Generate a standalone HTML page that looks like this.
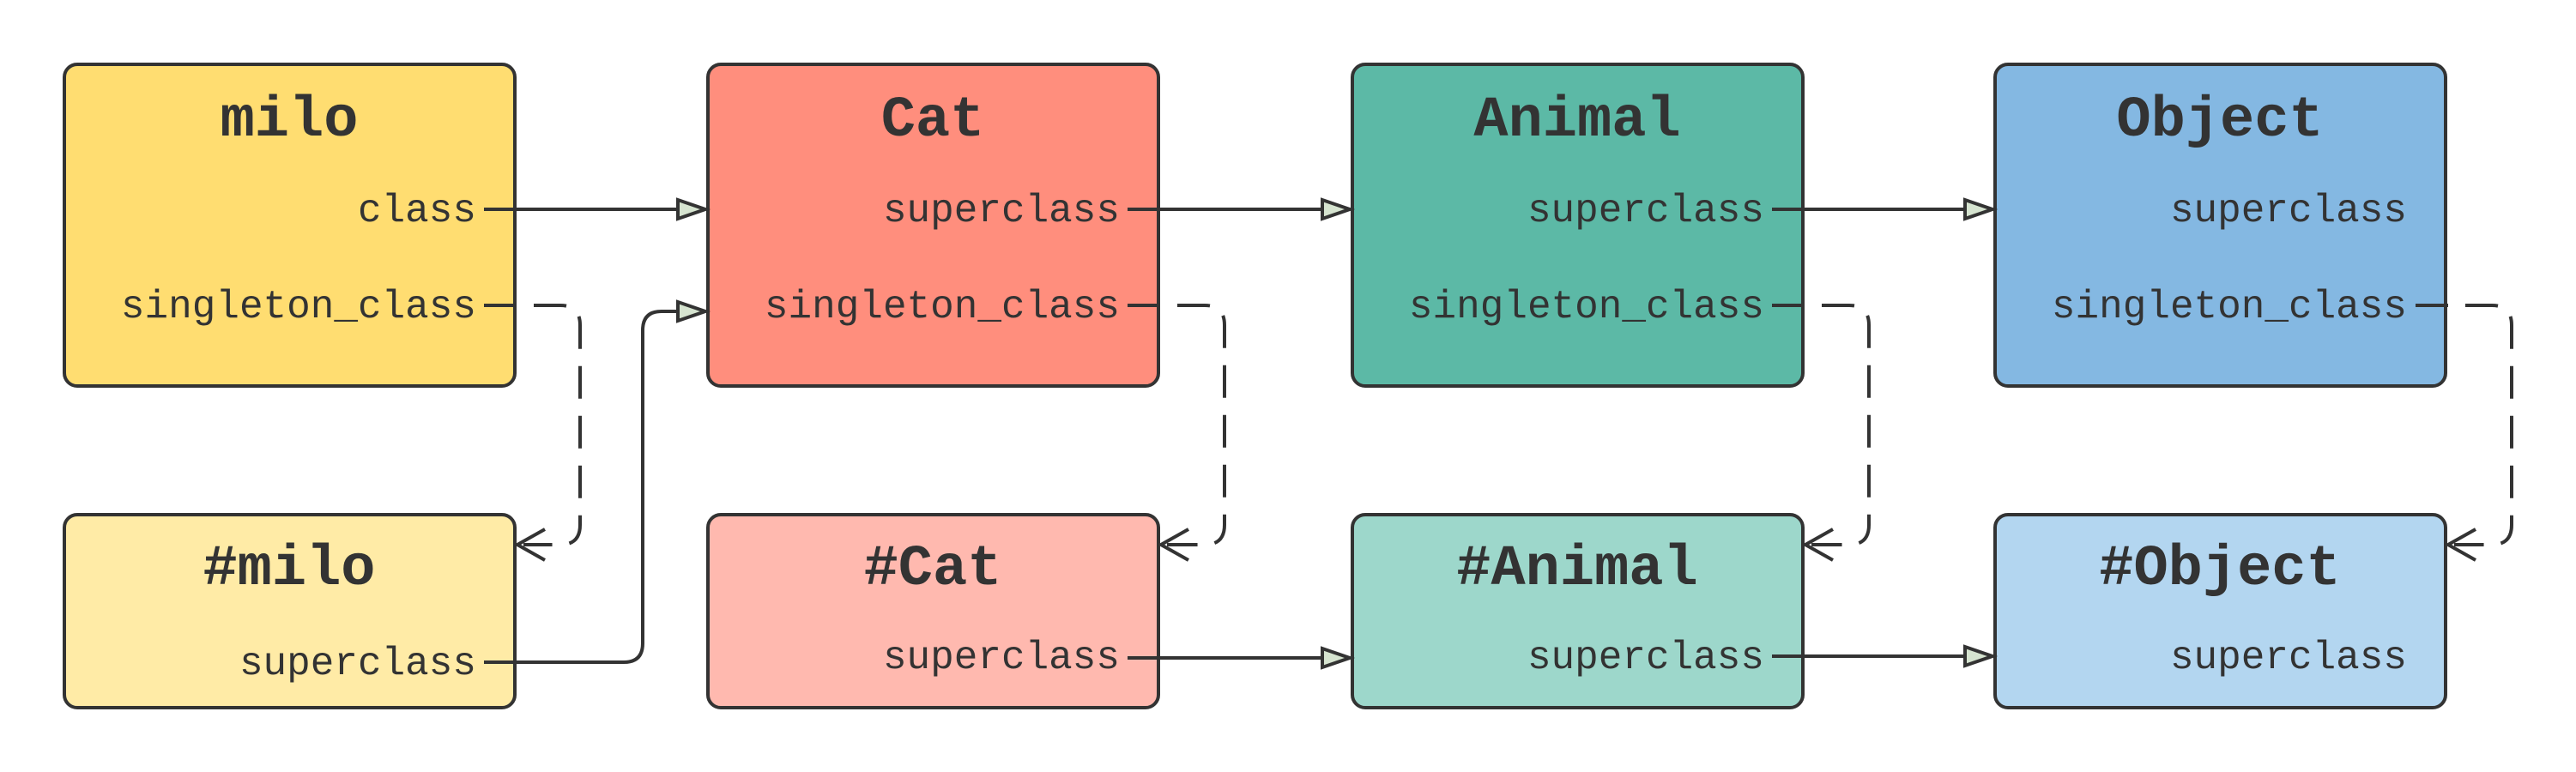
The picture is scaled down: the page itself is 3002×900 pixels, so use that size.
<!DOCTYPE html>
<html><head><meta charset="utf-8"><style>
html,body{margin:0;padding:0;background:#fff;}
svg{display:block;}
.t{font-family:"Liberation Mono",monospace;font-weight:bold;font-size:67px;fill:#333;text-anchor:middle;}
.f{font-family:"Liberation Mono",monospace;font-size:46px;fill:#333;text-anchor:end;}
.b{stroke:#333;stroke-width:4;}
.l{fill:none;stroke:#333;stroke-width:4;}
.d{fill:none;stroke:#333;stroke-width:4;stroke-dasharray:38 20;}
.ah{fill:#d6e4d0;stroke:#333;stroke-width:4;stroke-linejoin:miter;}
.oa{fill:none;stroke:#333;stroke-width:4;}
</style></head><body>
<svg width="3002" height="900" viewBox="0 0 3002 900" xmlns="http://www.w3.org/2000/svg">
<defs>
<g id="ar"><path class="ah" d="M0,0 L-32,-11 L-32,11 Z"/></g>
<g id="oa"><path class="oa" d="M35,-18 L3,0 L35,18"/></g>
</defs>
<rect class="b" x="75" y="75" width="525" height="375" rx="15" fill="#FFDD71"/>
<rect class="b" x="825" y="75" width="525" height="375" rx="15" fill="#FF8E7D"/>
<rect class="b" x="1576" y="75" width="525" height="375" rx="15" fill="#5CB9A6"/>
<rect class="b" x="2325" y="75" width="525" height="375" rx="15" fill="#84B8E2"/>
<rect class="b" x="75" y="600" width="525" height="225" rx="15" fill="#FFEBA6"/>
<rect class="b" x="825" y="600" width="525" height="225" rx="15" fill="#FFB9AF"/>
<rect class="b" x="1576" y="600" width="525" height="225" rx="15" fill="#9DD7CB"/>
<rect class="b" x="2325" y="600" width="525" height="225" rx="15" fill="#B3D6F0"/>

<text class="t" x="337" y="158">milo</text>
<text class="t" x="1087" y="158">Cat</text>
<text class="t" x="1838" y="158">Animal</text>
<text class="t" x="2587" y="158">Object</text>
<text class="t" x="337" y="681">#milo</text>
<text class="t" x="1087" y="681">#Cat</text>
<text class="t" x="1838" y="681">#Animal</text>
<text class="t" x="2587" y="681">#Object</text>

<text class="f" x="555" y="258">class</text>
<text class="f" x="555" y="370">singleton_class</text>
<text class="f" x="555" y="786">superclass</text>
<text class="f" x="1305" y="258">superclass</text>
<text class="f" x="1305" y="370">singleton_class</text>
<text class="f" x="1305" y="779">superclass</text>
<text class="f" x="2056" y="258">superclass</text>
<text class="f" x="2056" y="370">singleton_class</text>
<text class="f" x="2056" y="779">superclass</text>
<text class="f" x="2805" y="258">superclass</text>
<text class="f" x="2805" y="370">singleton_class</text>
<text class="f" x="2805" y="779">superclass</text>

<line class="l" x1="564" y1="244" x2="790" y2="244"/><use href="#ar" x="822" y="244"/>
<line class="l" x1="1314" y1="244" x2="1540" y2="244"/><use href="#ar" x="1573" y="244"/>
<line class="l" x1="2065" y1="244" x2="2290" y2="244"/><use href="#ar" x="2322" y="244"/>

<path class="l" d="M564,772 L727,772 Q749,772 749,750 L749,385 Q749,363 771,363 L790,363"/>
<use href="#ar" x="822" y="363"/>
<line class="l" x1="1314" y1="767" x2="1540" y2="767"/><use href="#ar" x="1573" y="767"/>
<line class="l" x1="2065" y1="765" x2="2290" y2="765"/><use href="#ar" x="2322" y="765"/>

<path class="d" d="M564,356 L653,356 Q676,356 676,379 L676,612 Q676,635 653,635 L610,635"/>
<use href="#oa" x="600" y="635"/>
<path class="d" d="M1314,356 L1404,356 Q1427,356 1427,379 L1427,612 Q1427,635 1404,635 L1360,635"/>
<use href="#oa" x="1350" y="635"/>
<path class="d" d="M2065,356 L2155,356 Q2178,356 2178,379 L2178,612 Q2178,635 2155,635 L2111,635"/>
<use href="#oa" x="2101" y="635"/>
<path class="d" d="M2815,356 L2904,356 Q2927,356 2927,379 L2927,612 Q2927,635 2904,635 L2860,635"/>
<use href="#oa" x="2850" y="635"/>
</svg>
</body></html>
